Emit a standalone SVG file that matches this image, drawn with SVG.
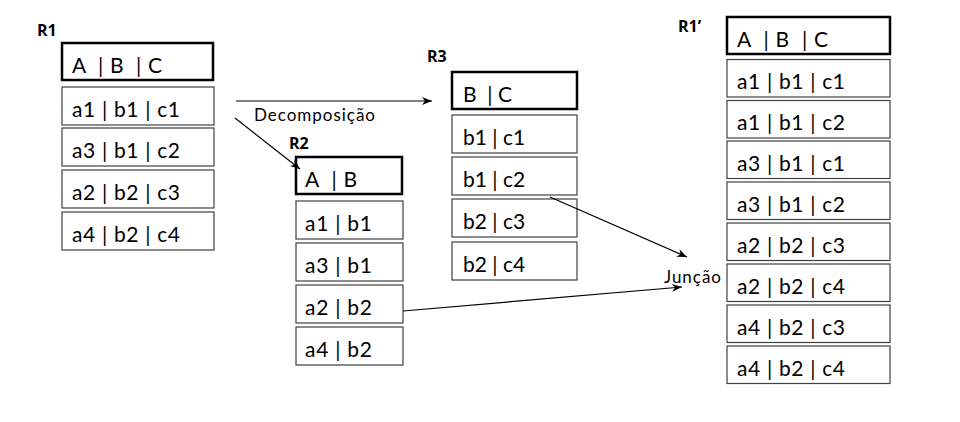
<svg xmlns="http://www.w3.org/2000/svg" xml:space="preserve" width="960" height="422" viewBox="0 0 960 422">
<defs>
<marker id="ah" markerUnits="userSpaceOnUse" markerWidth="11" markerHeight="8" refX="10" refY="4" orient="auto">
<path d="M0,0 L10,4 L0,8 L3,4 z" fill="#000"/>
</marker>
<style>
.hd{fill:#fff;stroke:#000;stroke-width:2.5}
.rw{fill:#fff;stroke:#404040;stroke-width:1.2}
text{white-space:pre}
.t{font-family:Lato,"Open Sans",sans-serif;font-size:21px;fill:#000}
.lb{font-family:"Open Sans",Lato,sans-serif;font-size:16px;font-weight:bold;fill:#000}
.lt{font-family:Lato,"Open Sans",sans-serif;font-size:17px;fill:#000}
.c{stroke:#000;stroke-width:1.2;fill:none;marker-end:url(#ah)}
</style>
</defs>
<rect width="960" height="422" fill="#fff"/>
<g id="R1">
<text class="lb" x="37" y="36">R1</text>
<rect class="hd" x="62" y="43" width="151" height="37"/>
<text class="t" x="72" y="73" textLength="90" lengthAdjust="spacing">A  | B  | C</text>
<rect class="rw" x="62" y="87" width="152" height="38"/>
<text class="t" x="72" y="117" textLength="108" lengthAdjust="spacing">a1 | b1 | c1</text>
<rect class="rw" x="62" y="128" width="152" height="38"/>
<text class="t" x="72" y="158" textLength="108" lengthAdjust="spacing">a3 | b1 | c2</text>
<rect class="rw" x="62" y="170" width="152" height="38"/>
<text class="t" x="72" y="200" textLength="108" lengthAdjust="spacing">a2 | b2 | c3</text>
<rect class="rw" x="62" y="212" width="152" height="38"/>
<text class="t" x="72" y="242" textLength="108" lengthAdjust="spacing">a4 | b2 | c4</text>
</g>
<g id="R2">
<text class="lb" x="289" y="149">R2</text>
<rect class="hd" x="296" y="157" width="106" height="37"/>
<text class="t" x="305" y="187" textLength="52" lengthAdjust="spacing">A  | B</text>
<rect class="rw" x="296" y="201" width="107" height="38"/>
<text class="t" x="305" y="231" textLength="67" lengthAdjust="spacing">a1 | b1</text>
<rect class="rw" x="296" y="243" width="107" height="38"/>
<text class="t" x="305" y="273" textLength="67" lengthAdjust="spacing">a3 | b1</text>
<rect class="rw" x="296" y="285" width="107" height="38"/>
<text class="t" x="305" y="315" textLength="67" lengthAdjust="spacing">a2 | b2</text>
<rect class="rw" x="296" y="327" width="107" height="38"/>
<text class="t" x="305" y="357" textLength="67" lengthAdjust="spacing">a4 | b2</text>
</g>
<g id="R3">
<text class="lb" x="427" y="62">R3</text>
<rect class="hd" x="452" y="72" width="125" height="37"/>
<text class="t" x="463" y="102" textLength="49" lengthAdjust="spacing">B  | C</text>
<rect class="rw" x="452" y="115" width="125" height="38"/>
<text class="t" x="463" y="145">b1 | c1</text>
<rect class="rw" x="452" y="157" width="125" height="38"/>
<text class="t" x="463" y="187">b1 | c2</text>
<rect class="rw" x="452" y="199" width="125" height="38"/>
<text class="t" x="463" y="229">b2 | c3</text>
<rect class="rw" x="452" y="242" width="125" height="38"/>
<text class="t" x="463" y="272">b2 | c4</text>
</g>
<g id="R1p">
<text class="lb" x="678" y="32">R1’</text>
<rect class="hd" x="727" y="17" width="163" height="37"/>
<text class="t" x="737" y="47" textLength="91" lengthAdjust="spacing">A  | B  | C</text>
<rect class="rw" x="727" y="59.5" width="163" height="37.5"/>
<text class="t" x="737" y="89" textLength="108" lengthAdjust="spacing">a1 | b1 | c1</text>
<rect class="rw" x="727" y="100.5" width="163" height="37.5"/>
<text class="t" x="737" y="130" textLength="108" lengthAdjust="spacing">a1 | b1 | c2</text>
<rect class="rw" x="727" y="141" width="163" height="37.5"/>
<text class="t" x="737" y="171" textLength="108" lengthAdjust="spacing">a3 | b1 | c1</text>
<rect class="rw" x="727" y="182" width="163" height="37.5"/>
<text class="t" x="737" y="212" textLength="108" lengthAdjust="spacing">a3 | b1 | c2</text>
<rect class="rw" x="727" y="223" width="163" height="37.5"/>
<text class="t" x="737" y="253" textLength="108" lengthAdjust="spacing">a2 | b2 | c3</text>
<rect class="rw" x="727" y="264" width="163" height="37.5"/>
<text class="t" x="737" y="294" textLength="108" lengthAdjust="spacing">a2 | b2 | c4</text>
<rect class="rw" x="727" y="305" width="163" height="37.5"/>
<text class="t" x="737" y="335" textLength="108" lengthAdjust="spacing">a4 | b2 | c3</text>
<rect class="rw" x="727" y="346" width="163" height="37.5"/>
<text class="t" x="737" y="376" textLength="108" lengthAdjust="spacing">a4 | b2 | c4</text>
</g>
<g id="connectors">
<line class="c" x1="236" y1="101" x2="432" y2="101"/>
<line class="c" x1="235" y1="118" x2="300" y2="169"/>
<line class="c" x1="550" y1="197" x2="687" y2="257"/>
<line class="c" x1="403" y1="311" x2="682" y2="287"/>
<text class="lt" x="254" y="121" textLength="121" lengthAdjust="spacing">Decomposição</text>
<text class="lt" x="664" y="283" textLength="57" lengthAdjust="spacing">Junção</text>
</g>
</svg>
